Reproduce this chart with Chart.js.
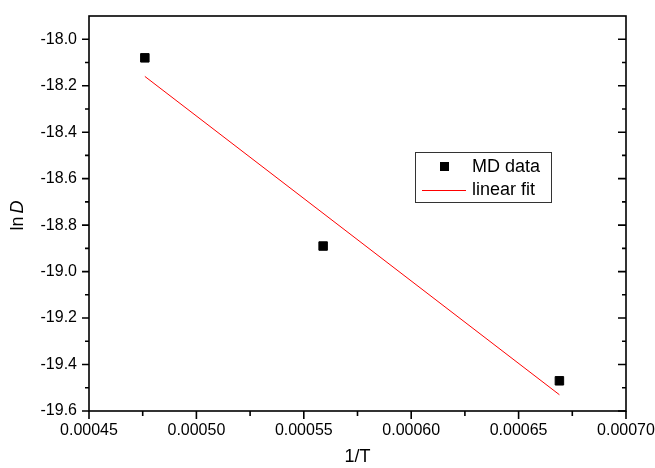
<!DOCTYPE html>
<html>
<head>
<meta charset="utf-8">
<script src="https://cdn.jsdelivr.net/npm/chart.js@4.4.0/dist/chart.umd.min.js"></script>
<style>
  html, body { margin: 0; padding: 0; background: #fff; }
</style>
</head>
<body>
<canvas id="arrhenius" width="655" height="468"></canvas>
<script>
// MD diffusion data (ln D vs 1/T) and the straight-line fit through it
var invT = [0.000476, 0.000559, 0.000669];
var lnD = [-18.08, -18.89, -19.47];
var fitX = [0.000476, 0.000669];
var fitY = [-18.16, -19.53];

var xTicks = [0.00045, 0.00050, 0.00055, 0.00060, 0.00065, 0.00070];
var yTicks = [-19.6, -19.4, -19.2, -19.0, -18.8, -18.6, -18.4, -18.2, -18.0];
var xRange = [0.00045, 0.00070];
var yRange = [-19.6, -17.9];

var FONT = 'Liberation Sans, Arial, sans-serif';

function midpoints(arr) {
  return arr.slice(1).map(function(v, i) { return (v + arr[i]) / 2; });
}

// scales keep fixed sizes; the outer layout padding alone places the plot box
function fixScale(size) {
  return function(s) {
    if (s.isHorizontal()) s.height = size; else s.width = size;
    s.paddingLeft = s.paddingRight = s.paddingTop = s.paddingBottom = 0;
  };
}

// box round the plot, major/minor ticks (out on left+bottom, in on right)
var frameTicks = {
  id: 'frameTicks',
  afterDatasetsDraw: function(chart) {
    var ctx = chart.ctx, a = chart.chartArea;
    var xs = chart.scales.x, ys = chart.scales.y;
    ctx.save();
    ctx.strokeStyle = '#000';
    ctx.lineWidth = 1.6;
    ctx.strokeRect(a.left, a.top, a.right - a.left, a.bottom - a.top);
    ctx.beginPath();
    xTicks.forEach(function(v) {
      var px = xs.getPixelForValue(v);
      ctx.moveTo(px, a.bottom); ctx.lineTo(px, a.bottom + 8);
    });
    midpoints(xTicks).forEach(function(v) {
      var px = xs.getPixelForValue(v);
      ctx.moveTo(px, a.bottom); ctx.lineTo(px, a.bottom + 5);
    });
    yTicks.forEach(function(v) {
      var py = ys.getPixelForValue(v);
      ctx.moveTo(a.left, py); ctx.lineTo(a.left - 7, py);
      ctx.moveTo(a.right, py); ctx.lineTo(a.right - 8, py);
    });
    midpoints(yTicks).forEach(function(v) {
      var py = ys.getPixelForValue(v);
      ctx.moveTo(a.left, py); ctx.lineTo(a.left - 4, py);
      ctx.moveTo(a.right, py); ctx.lineTo(a.right - 4, py);
    });
    ctx.stroke();
    ctx.restore();
  }
};

// y title with the italic D
var yTitle = {
  id: 'yTitle',
  afterDraw: function(chart) {
    var ctx = chart.ctx, a = chart.chartArea;
    ctx.save();
    ctx.translate(18, (a.top + a.bottom) / 2 + 2);
    ctx.rotate(-Math.PI / 2);
    ctx.fillStyle = '#000';
    ctx.textBaseline = 'middle';
    ctx.font = '18px ' + FONT;
    var w1 = ctx.measureText('ln').width;
    ctx.font = 'italic 18px ' + FONT;
    var w2 = ctx.measureText('D').width;
    var x0 = -(w1 + 3 + w2) / 2;
    ctx.font = '18px ' + FONT;
    ctx.fillText('ln', x0, 0);
    ctx.font = 'italic 18px ' + FONT;
    ctx.fillText('D', x0 + w1 + 3, 0);
    ctx.restore();
  }
};

// boxed legend inside the plot
var boxLegend = {
  id: 'boxLegend',
  afterDraw: function(chart) {
    var ctx = chart.ctx;
    var ds = chart.data.datasets;
    ctx.save();
    ctx.fillStyle = '#fff';
    ctx.fillRect(415, 152, 136, 50);
    ctx.strokeStyle = '#333';
    ctx.lineWidth = 1;
    ctx.strokeRect(415.5, 152.5, 136, 50);

    ctx.fillStyle = ds[0].backgroundColor;
    ctx.fillRect(440, 162, 9, 9);

    ctx.strokeStyle = ds[1].borderColor;
    ctx.lineWidth = ds[1].borderWidth;
    ctx.beginPath();
    ctx.moveTo(422, 190.5); ctx.lineTo(466, 190.5);
    ctx.stroke();

    ctx.fillStyle = '#000';
    ctx.font = '18px ' + FONT;
    ctx.textBaseline = 'middle';
    ctx.fillText(ds[0].label, 472, 167);
    ctx.fillText(ds[1].label, 472, 190);
    ctx.restore();
  }
};

new Chart(document.getElementById('arrhenius'), {
  type: 'scatter',
  data: {
    datasets: [{
      label: 'MD data',
      data: invT.map(function(x, i) { return { x: x, y: lnD[i] }; }),
      pointStyle: 'rect',
      pointRadius: 6,
      backgroundColor: '#000',
      borderColor: '#000',
      borderWidth: 1
    }, {
      label: 'linear fit',
      type: 'line',
      data: fitX.map(function(x, i) { return { x: x, y: fitY[i] }; }),
      borderColor: '#ff0000',
      borderWidth: 1,
      pointRadius: 0,
      fill: false
    }]
  },
  options: {
    responsive: false,
    animation: false,
    devicePixelRatio: 1,
    layout: { padding: { top: 16, right: 29, left: 0, bottom: 0 } },
    plugins: { legend: { display: false }, tooltip: { enabled: false } },
    scales: {
      x: {
        type: 'linear',
        min: xRange[0],
        max: xRange[1],
        afterBuildTicks: function(s) { s.ticks = xTicks.map(function(v) { return { value: v }; }); },
        afterFit: fixScale(57),
        grid: { display: false, drawTicks: false },
        border: { display: false },
        ticks: {
          padding: 10,
          color: '#000',
          maxRotation: 0,
          autoSkip: false,
          font: { family: FONT, size: 16 },
          callback: function(v) { return Number(v).toFixed(5); }
        },
        title: { display: true, text: '1/T', color: '#000', padding: 0, font: { family: FONT, size: 18 } }
      },
      y: {
        type: 'linear',
        min: yRange[0],
        max: yRange[1],
        afterBuildTicks: function(s) { s.ticks = yTicks.map(function(v) { return { value: v }; }); },
        afterFit: fixScale(89),
        grid: { display: false, drawTicks: false },
        border: { display: false },
        ticks: {
          padding: 12,
          color: '#000',
          autoSkip: false,
          font: { family: FONT, size: 16 },
          callback: function(v) { return Number(v).toFixed(1); }
        }
      }
    }
  },
  plugins: [frameTicks, yTitle, boxLegend]
});
</script>
</body>
</html>
